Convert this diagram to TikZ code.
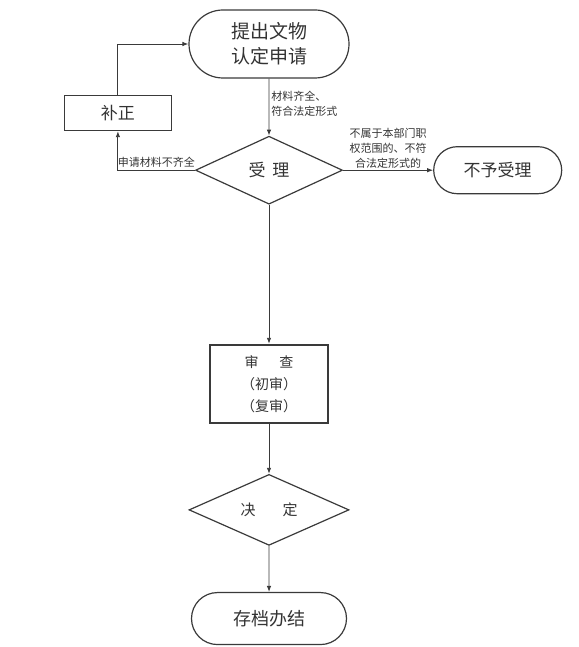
\documentclass[tikz,border=0pt]{standalone}
\usepackage{fontspec}
\setmainfont{Noto Sans CJK SC}
\usepackage{xcolor}
\definecolor{linegray}{HTML}{3A3A3A}
\definecolor{textgray}{HTML}{333333}
\usepackage{tikz}
\usetikzlibrary{arrows.meta, shapes.geometric, shapes.misc, positioning}

\begin{document}
\begin{tikzpicture}[>={Latex[length=6pt,width=4.5pt]},
    terminal/.style={rounded rectangle, draw=linegray, line width=1.2pt,
                     text=textgray, align=center, inner sep=0pt},
    stepbox/.style={rectangle, draw=linegray, line width=1pt,
                    text=textgray, align=center, inner sep=0pt},
    choice/.style={diamond, draw=linegray, line width=1.2pt,
                   text=textgray, inner sep=0pt},
    flow/.style={->, draw=linegray, line width=0.9pt},
    note/.style={font=\fontsize{11}{15}\selectfont, text=textgray, inner sep=2pt}]

  \useasboundingbox (0,0) rectangle (578pt,-647pt);

  % Antrag
  \node[terminal, minimum width=160pt, minimum height=68pt,
        font=\fontsize{19}{25}\selectfont] (apply)
        at (269pt,-44pt) {提出文物\\认定申请};

  % Annahme
  \node[choice, minimum width=147pt, minimum height=68pt,
        font=\fontsize{17}{20}\selectfont,
        below=57pt of apply] (check)
        {受\hspace{0.4em}理};

  \draw[flow] (apply) -- node[note, right, align=left, pos=0.45]
        {材料齐全、\\符合法定形式} (check);

  % Ergaenzung
  \node[stepbox, minimum width=107pt, minimum height=35pt,
        font=\fontsize{17}{20}\selectfont,
        above left=39pt and 23pt of check.west] (fix)
        {补正};

  \draw[flow] (check.west) -| node[note, above, pos=0.25] {申请材料不齐全} (fix.south);
  \draw[flow] (fix.north) |- (apply.west);

  % Ablehnung
  \node[terminal, minimum width=128pt, minimum height=47pt,
        font=\fontsize{17}{20}\selectfont,
        right=90pt of check] (reject)
        {不予受理};

  \draw[flow] (check.east) -- node[note, above, align=center, inner sep=1pt]
        {不属于本部门职\\权范围的、不符\\合法定形式的} (reject);

  % Pruefung
  \node[stepbox, line width=2pt, minimum width=118pt, minimum height=78pt,
        font=\fontsize{14}{22}\selectfont,
        below=139pt of check] (review)
        {审\hspace{1.5em}查\\（初审）\\（复审）};

  \draw[flow] (check) -- (review);

  % Entscheidung
  \node[choice, minimum width=160pt, minimum height=67pt,
        font=\fontsize{15}{18}\selectfont,
        below=50pt of review] (decide)
        {决\hspace{1.8em}定};

  \draw[flow] (review) -- (decide);

  % Abschluss
  \node[terminal, minimum width=155pt, minimum height=52pt,
        font=\fontsize{18}{22}\selectfont,
        below=46pt of decide] (done)
        {存档办结};

  \draw[flow] (decide) -- (done);

\end{tikzpicture}
\end{document}
